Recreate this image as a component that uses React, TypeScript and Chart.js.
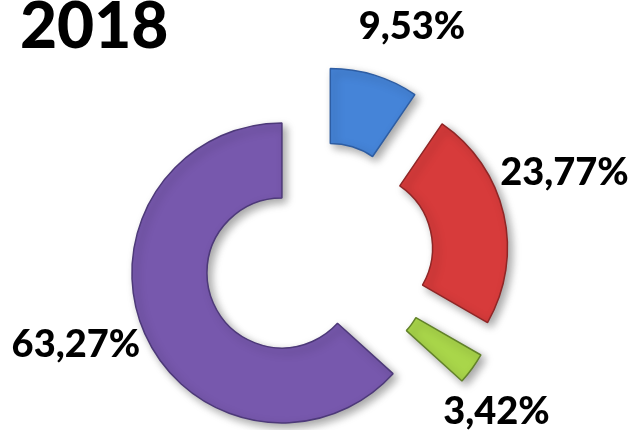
import React, { useEffect, useRef } from 'react';
import { Chart, registerables } from 'chart.js';

Chart.register(...registerables);

const chartTitle = '2018';
const categories = ['A', 'B', 'C', 'D'];
const values = [9.53, 23.77, 3.42, 63.27];
const fillColors = ['#4584d8', '#d73b3b', '#a9d64a', '#7758ad'];
const edgeColors = ['#2d5da3', '#8f2626', '#62822a', '#4d3979'];

// layout constants (not data)
const EXPLODE = 40; // px each slice is pulled out along its mid-angle
const LABEL_GAP = [98, 110, 86, 108]; // px beyond the outer radius (from true center)
const LABEL_ANGLE_SHIFT = [5, -6, 5, 4]; // degrees
const FONT = 'Lato, "Open Sans", "Noto Sans", sans-serif';

const fmt = (v: number) => v.toFixed(2).replace('.', ',') + '%';

const explodePlugin = {
  id: 'explodeShadow',
  beforeDatasetsDraw(chart: any) {
    const { chartArea, ctx } = chart;
    const cx = (chartArea.left + chartArea.right) / 2;
    const cy = (chartArea.top + chartArea.bottom) / 2;
    const meta = chart.getDatasetMeta(0);
    meta.data.forEach((arc: any) => {
      const mid = (arc.startAngle + arc.endAngle) / 2;
      arc.x = cx + Math.cos(mid) * EXPLODE;
      arc.y = cy + Math.sin(mid) * EXPLODE;
    });
    ctx.save();
    ctx.shadowColor = 'rgba(0,0,0,0.35)';
    ctx.shadowBlur = 8;
    ctx.shadowOffsetX = 4;
    ctx.shadowOffsetY = 4;
  },
  afterDatasetsDraw(chart: any) {
    chart.ctx.restore();
  },
};

const labelPlugin = {
  id: 'sliceLabels',
  afterDraw(chart: any) {
    const { chartArea, ctx, width, height } = chart;
    const cx = (chartArea.left + chartArea.right) / 2;
    const cy = (chartArea.top + chartArea.bottom) / 2;
    const meta = chart.getDatasetMeta(0);
    const data = chart.data.datasets[0].data as number[];
    ctx.save();
    ctx.font = `900 38px ${FONT}`;
    ctx.fillStyle = '#000000';
    ctx.textAlign = 'center';
    ctx.textBaseline = 'middle';
    meta.data.forEach((arc: any, i: number) => {
      const mid =
        (arc.startAngle + arc.endAngle) / 2 + (LABEL_ANGLE_SHIFT[i] * Math.PI) / 180;
      const d = arc.outerRadius + LABEL_GAP[i];
      const text = fmt(data[i]);
      const w = ctx.measureText(text).width;
      const h = 30;
      let x = cx + Math.cos(mid) * d;
      let y = cy + Math.sin(mid) * d;
      x = Math.min(Math.max(x, w / 2 + 2), width - w / 2 - 2);
      y = Math.min(Math.max(y, h / 2), height - h / 2);
      ctx.fillText(text, x, y);
    });
    ctx.restore();
  },
};

export default function App() {
  const ref = useRef<HTMLCanvasElement | null>(null);

  useEffect(() => {
    if (!ref.current) return;
    const chart = new Chart(ref.current, {
      type: 'doughnut',
      data: {
        labels: categories,
        datasets: [
          {
            data: values,
            backgroundColor: fillColors,
            borderColor: edgeColors,
            borderWidth: 1.5,
          },
        ],
      },
      options: {
        animation: false,
        responsive: true,
        maintainAspectRatio: false,
        events: [],
        radius: 150,
        cutout: '50%',
        layout: { padding: { left: 20, right: 15, top: 0, bottom: 0 } },
        plugins: {
          legend: { display: false },
          tooltip: { enabled: false },
          title: {
            display: true,
            text: chartTitle,
            align: 'start',
            color: '#000000',
            font: { family: FONT, size: 64, weight: '900', lineHeight: 0.85 },
            padding: { top: 0, bottom: 29 },
          },
        },
      } as any,
      plugins: [explodePlugin, labelPlugin],
    });
    return () => chart.destroy();
  }, []);

  return (
    <div style={{ position: 'absolute', left: 0, top: 0, width: 632, height: 430, background: '#ffffff' }}>
      <canvas ref={ref} style={{ display: 'block' }} />
    </div>
  );
}
